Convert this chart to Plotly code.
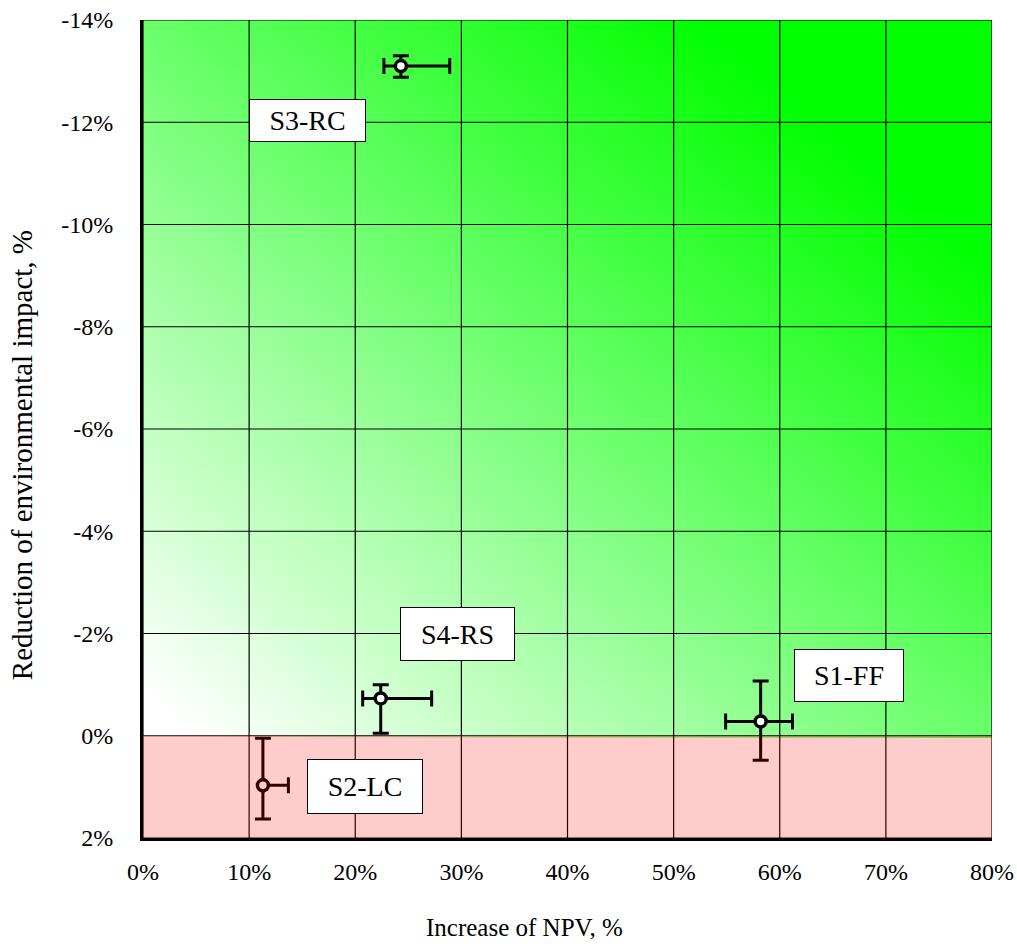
import numpy as np
import plotly.graph_objects as go

# Scenario results: NPV increase (%) vs. change of environmental impact (%)
scenarios = ["S1-FF", "S2-LC", "S3-RC", "S4-RS"]
npv_increase = [58.2, 11.3, 24.3, 22.4]
env_change = [-0.28, 0.97, -13.1, -0.73]
npv_err_plus = [3.0, 2.4, 4.6, 4.8]
npv_err_minus = [3.3, 0.0, 1.6, 1.7]
env_err_plus = [0.76, 0.66, 0.22, 0.68]
env_err_minus = [0.79, 0.92, 0.20, 0.27]

# Label boxes placed next to each scenario
label_x = [66.5, 20.9, 15.5, 29.6]
label_y = [-1.18, 0.99, -12.04, -2.0]
label_w = [106, 112, 113, 111]
label_h = [49, 51, 39, 50]

x_ticks = list(range(0, 81, 10))
y_ticks = list(range(-14, 3, 2))

FONT = "Liberation Serif"

fig = go.Figure()

# Diagonal white-to-green background for the improvement region
gx = np.linspace(0, 80, 161)
gy = np.linspace(-14, 0, 141)
GX, GY = np.meshgrid(gx, gy)
t = (GX / 80 + (-GY) / 14) / 2
shade = np.clip(1.25 * (t - 0.03), 0, 1)
fig.add_trace(go.Heatmap(
    x=gx, y=gy, z=shade, zmin=0, zmax=1, zsmooth="best",
    colorscale=[[0, "#ffffff"], [1, "#00ff00"]],
    showscale=False, hoverinfo="skip",
))

# Grid drawn over the background
grid_x, grid_y = [], []
for v in x_ticks:
    grid_x += [v, v, None]
    grid_y += [y_ticks[0], y_ticks[-1], None]
for v in y_ticks:
    grid_x += [x_ticks[0], x_ticks[-1], None]
    grid_y += [v, v, None]
fig.add_trace(go.Scatter(
    x=grid_x, y=grid_y, mode="lines",
    line=dict(color="black", width=1.2),
    showlegend=False, hoverinfo="skip",
))

fig.add_trace(go.Scatter(
    x=npv_increase, y=env_change, mode="markers",
    marker=dict(symbol="circle", size=11, color="white",
                line=dict(color="black", width=3.5)),
    error_x=dict(type="data", symmetric=False, array=npv_err_plus,
                 arrayminus=npv_err_minus, color="black", thickness=3, width=8),
    error_y=dict(type="data", symmetric=False, array=env_err_plus,
                 arrayminus=env_err_minus, color="black", thickness=3, width=8),
    showlegend=False, hoverinfo="skip",
))

# Translucent red band for increased impact
fig.add_shape(type="rect", x0=0, x1=80, y0=0, y1=2, xref="x", yref="y",
              fillcolor="rgba(255,0,0,0.2)", line=dict(width=0), layer="above")

for name, lx, ly, w, h in zip(scenarios, label_x, label_y, label_w, label_h):
    fig.add_annotation(x=lx, y=ly, text=name, showarrow=False,
                       font=dict(family=FONT, size=28, color="black"),
                       bgcolor="white", bordercolor="black", borderwidth=1,
                       borderpad=1, width=w, height=h, align="center",
                       valign="middle")

# Axis titles
fig.add_annotation(text="Increase of NPV, %", xref="paper", yref="paper",
                   x=0.449, y=-0.109, xanchor="center", yanchor="middle",
                   showarrow=False, font=dict(family=FONT, size=25))
fig.add_annotation(text="Reduction of environmental impact, %",
                   xref="paper", yref="paper", x=-0.1425, y=0.468,
                   xanchor="center", yanchor="middle", textangle=-90,
                   showarrow=False, font=dict(family=FONT, size=29))

fig.update_layout(
    width=1017, height=944,
    margin=dict(l=143, r=25, t=20, b=106),
    paper_bgcolor="white", plot_bgcolor="white",
    font=dict(family=FONT, size=24, color="black"),
)
fig.update_xaxes(
    range=[0, 80], tickvals=x_ticks, ticktext=[f"{v}%" for v in x_ticks],
    showgrid=False, zeroline=False,
    showline=True, linecolor="black", linewidth=3, layer="above traces",
    ticks="", ticklabelstandoff=10, tickfont=dict(size=24),
    automargin=False,
)
fig.update_yaxes(
    range=[2, -14], tickvals=y_ticks, ticktext=[f"{v}%" for v in y_ticks],
    showgrid=False, zeroline=False,
    showline=True, linecolor="black", linewidth=3, layer="above traces",
    ticks="", ticklabelstandoff=22, tickfont=dict(size=24),
    automargin=False,
)

fig.write_html("out.html")
